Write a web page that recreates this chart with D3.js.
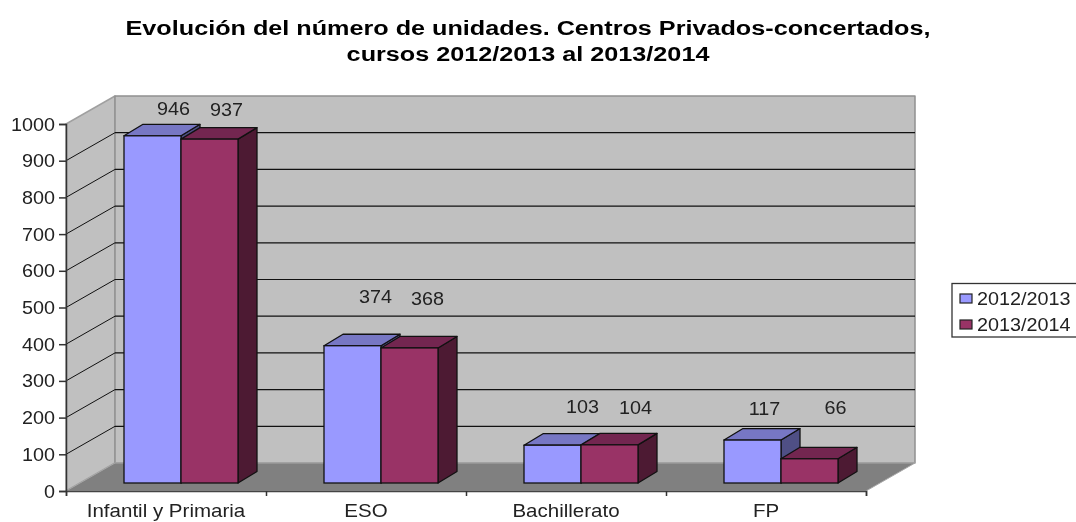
<!DOCTYPE html>
<html>
<head>
<meta charset="utf-8">
<style>
    html, body { margin: 0; background: #fff; }
    svg { display: block; font-family: "Liberation Sans", sans-serif; filter: blur(0.4px); }
    text { fill: #222; }
</style>
</head>
<body>
<script src="https://d3js.org/d3.v7.min.js"></script>
<script>
var categories = ["Infantil y Primaria", "ESO", "Bachillerato", "FP"];
var seriesNames = ["2012/2013", "2013/2014"];
var values2012 = [946, 374, 103, 117];
var values2013 = [937, 368, 104, 66];
var yTicks = [0, 100, 200, 300, 400, 500, 600, 700, 800, 900, 1000];
var titleLines = [
    "Evolución del número de unidades. Centros Privados-concertados,",
    "cursos 2012/2013 al 2013/2014"
];

var width = 1076, height = 522;
var left = 66, right = 866, bottom = 491, top_ = 124;
var wallDx = 49, wallDy = -28;          // fondo de la caja 3D
var barDx = 19, barDy = -11.5;          // fondo de cada barra
var barBase = 483;
var textStretch = 1.1;

// colores: frontal, tapa, lateral
var colors = [
    { front: "#9999ff", top: "#7777c4", side: "#4f4f85" },
    { front: "#993366", top: "#732650", side: "#4d1a33" }
];

// ajuste manual de las etiquetas respecto al centro de la barra y su tapa
var labelNudge = [
    [[2, -9], [-2, -12]],
    [[4, -31], [-1, -31]],
    [[11, -21], [7, -19]],
    [[-7, -14], [7, -33]]
];

var svg = d3.select("body").append("svg")
    .attr("width", width)
    .attr("height", height);

var x = d3.scaleBand().domain(categories).range([left, right]);
var xEdges = d3.scaleLinear().domain([0, categories.length]).range([left, right]);
var xSeries = d3.scaleBand().domain(seriesNames).range([58, 172]);
var y = d3.scaleLinear().domain([0, 1000]).range([bottom, top_]);
var barH = d3.scaleLinear().domain([0, 1000]).range([0, bottom - top_]);

function stretched(sel, px, py, k) {
    return sel.attr("transform", "translate(" + px + "," + py + ") scale(" + (k || textStretch) + ",1)");
}

function poly(g, pts, fill, stroke, sw) {
    return g.append("polygon")
        .attr("points", pts.map(function (p) { return p.join(","); }).join(" "))
        .attr("fill", fill)
        .attr("stroke", stroke || "none")
        .attr("stroke-width", sw || 1)
        .attr("stroke-linejoin", "round");
}

// titulo
svg.selectAll(".title")
    .data(titleLines)
    .enter().append("text")
    .attr("class", "title")
    .attr("text-anchor", "middle")
    .style("font-size", "21px")
    .style("font-weight", "bold")
    .style("fill", "#000")
    .text(function (d) { return d; })
    .each(function (d, i) { stretched(d3.select(this), 528, 34.5 + i * 26.5, 1.2); });

// caja: pared izquierda, fondo y suelo
var box = svg.append("g");
poly(box, [[left, y(1000)], [left + wallDx, y(1000) + wallDy], [left + wallDx, y(0) + wallDy], [left, y(0)]], "#c0c0c0", "#a0a0a0", 1.5);
poly(box, [[left + wallDx, y(1000) + wallDy], [right + wallDx, y(1000) + wallDy], [right + wallDx, y(0) + wallDy], [left + wallDx, y(0) + wallDy]], "#c0c0c0", "#909090", 1.5);
poly(box, [[left, y(0)], [left + wallDx, y(0) + wallDy], [right + wallDx, y(0) + wallDy], [right, y(0)]], "#808080", "#a8a8a8", 1);

// rejilla
var gridTicks = yTicks.filter(function (d) { return d > 0 && d < 1000; });
box.selectAll(".grid-back")
    .data(gridTicks)
    .enter().append("line")
    .attr("x1", left + wallDx).attr("x2", right + wallDx)
    .attr("y1", function (d) { return y(d) + wallDy; })
    .attr("y2", function (d) { return y(d) + wallDy; })
    .attr("stroke", "#111").attr("stroke-width", 1.2);
box.selectAll(".grid-side")
    .data(gridTicks)
    .enter().append("line")
    .attr("x1", left).attr("x2", left + wallDx)
    .attr("y1", function (d) { return y(d); })
    .attr("y2", function (d) { return y(d) + wallDy; })
    .attr("stroke", "#111").attr("stroke-width", 1);

// ejes
var yAxis = svg.append("g")
    .attr("transform", "translate(" + left + ",0)")
    .call(d3.axisLeft(y).tickValues(yTicks).tickSize(7).tickFormat(d3.format("d")));
yAxis.select(".domain").attr("stroke", "#333").attr("stroke-width", 1.5);
yAxis.selectAll("line").attr("stroke", "#333").attr("stroke-width", 1.5);
yAxis.selectAll("text")
    .attr("x", null).attr("dy", null)
    .style("font-size", "18px")
    .attr("text-anchor", "end")
    .attr("transform", "translate(-11,6) scale(" + textStretch + ",1)");

var xTicks = svg.append("g")
    .attr("transform", "translate(0," + bottom + ")")
    .call(d3.axisBottom(xEdges).ticks(categories.length).tickSize(5).tickFormat(""));
xTicks.select(".domain").attr("stroke", "#444").attr("stroke-width", 1.5);
xTicks.selectAll("line").attr("stroke", "#333").attr("stroke-width", 1.5);

var xLabels = svg.append("g")
    .attr("transform", "translate(0," + bottom + ")")
    .call(d3.axisBottom(x).tickSize(0));
xLabels.select(".domain").remove();
xLabels.selectAll("text")
    .attr("y", null).attr("dy", null)
    .style("font-size", "18px")
    .attr("transform", "translate(0,26) scale(1.14,1)");

// barras
var rows = [];
categories.forEach(function (c, i) {
    rows.push({ cat: c, i: i, s: 0, v: values2012[i] });
    rows.push({ cat: c, i: i, s: 1, v: values2013[i] });
});

var bw = xSeries.bandwidth();
svg.selectAll(".bar")
    .data(rows)
    .enter().append("g")
    .attr("class", "bar")
    .each(function (d) {
        var g = d3.select(this);
        var x0 = x(d.cat) + xSeries(seriesNames[d.s]);
        var x1 = x0 + bw;
        var yTop = barBase - barH(d.v);
        var c = colors[d.s];
        poly(g, [[x1, barBase], [x1 + barDx, barBase + barDy], [x1 + barDx, yTop + barDy], [x1, yTop]], c.side, "#111", 1.3);
        poly(g, [[x0, yTop], [x0 + barDx, yTop + barDy], [x1 + barDx, yTop + barDy], [x1, yTop]], c.top, "#111", 1.3);
        g.append("rect")
            .attr("x", x0).attr("y", yTop)
            .attr("width", bw).attr("height", barH(d.v))
            .attr("fill", c.front).attr("stroke", "#111").attr("stroke-width", 1.3);
    });

// etiquetas de datos
svg.selectAll(".value")
    .data(rows)
    .enter().append("text")
    .attr("class", "value")
    .attr("text-anchor", "middle")
    .style("font-size", "18px")
    .text(function (d) { return d.v; })
    .each(function (d) {
        var n = labelNudge[d.i][d.s];
        var px = x(d.cat) + xSeries(seriesNames[d.s]) + bw / 2 + barDx + n[0];
        var py = barBase - barH(d.v) + barDy + n[1];
        stretched(d3.select(this), px, py);
    });

// leyenda
var legend = svg.append("g");
legend.append("rect")
    .attr("x", 952).attr("y", 283.5)
    .attr("width", 140).attr("height", 53.5)
    .attr("fill", "#fff").attr("stroke", "#333").attr("stroke-width", 1.3);
var item = legend.selectAll(".item")
    .data(seriesNames)
    .enter().append("g")
    .attr("class", "item")
    .attr("transform", function (d, i) { return "translate(960," + (294 + i * 26) + ")"; });
item.append("rect")
    .attr("width", 12).attr("height", 9)
    .attr("fill", function (d, i) { return colors[i].front; })
    .attr("stroke", "#222").attr("stroke-width", 1.2);
item.append("text")
    .style("font-size", "18px")
    .text(function (d) { return d; })
    .attr("transform", "translate(17,11) scale(" + textStretch + ",1)");
</script>
</body>
</html>
